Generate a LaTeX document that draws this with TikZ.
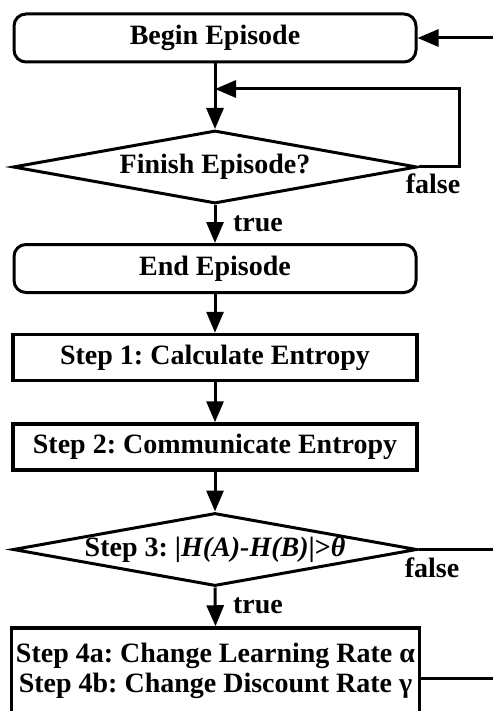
\documentclass[tikz,border=0pt]{standalone}
\usepackage{fontspec}
\setmainfont{Liberation Serif}
\usetikzlibrary{shapes.geometric, arrows.meta}
\frenchspacing

\begin{document}
\begin{tikzpicture}[x = 1pt, y = -1pt,
  every node/.style = {font = \fontsize{28}{30}\selectfont\bfseries},
  roundbox/.style = {draw, rounded corners = 12pt, line width = 3pt, minimum width = 402pt, minimum height = 48pt, inner sep = 0pt},
  stepbox/.style = {draw, line width = 3.5pt, minimum width = 404pt, minimum height = 46pt, inner sep = 0pt},
  choice/.style = {draw, diamond, aspect = 5.5, line width = 3pt, minimum width = 404pt, minimum height = 73pt, inner sep = 0pt},
  arr/.style = {line width = 3pt, -{Triangle[length = 21pt, width = 17pt]}},
  link/.style = {line width = 3pt}]
\useasboundingbox (0, 0) rectangle (493, 711);

\node[roundbox] at (215, 38) (begin)    {Begin Episode};
\node[choice] at (215, 167) (finish)    {Finish Episode?};
\node[roundbox] at (215, 268.5) (end)   {End Episode};
\node[stepbox] at (215, 357.5) (step1)  {Step 1: Calculate Entropy};
\node[stepbox] at (215, 447) (step2)    {Step 2: Communicate Entropy};
\node[choice] at (215, 549.5) (step3)   {Step 3: |\textit{H(A)-H(B)}|>\textit{θ}};
\node[stepbox, align = center, minimum width = 408pt, minimum height = 86pt] at (215.5, 671) (step4)
  {Step 4a: Change Learning Rate α\\Step 4b: Change Discount Rate γ};

\node at (433, 184) (false1) {false};
\node at (258, 224) (true1)  {true};
\node at (432, 568) (false2) {false};
\node at (258, 606) (true2)  {true};

\coordinate (in1) at (493, 38);
\coordinate (merge) at (215, 89);
\coordinate (loopR) at (459, 89);
\coordinate (out3) at (493, 549.5);
\coordinate (out4) at (493, 678);

\draw[arr] (in1) -- (begin.east);
\draw[arr] (begin.south) -- (finish.north);
\draw[arr] (finish.east) -| (loopR) -- (merge);
\draw[arr] (finish.south) -- (end.north);
\draw[arr] (end.south) -- (step1.north);
\draw[arr] (step1.south) -- (step2.north);
\draw[arr] (step2.south) -- (step3.north);
\draw[link] (step3.east) -- (out3);
\draw[arr] (step3.south) -- (step4.north);
\draw[link] (step4.east |- out4) -- (out4);

\end{tikzpicture}
\end{document}
